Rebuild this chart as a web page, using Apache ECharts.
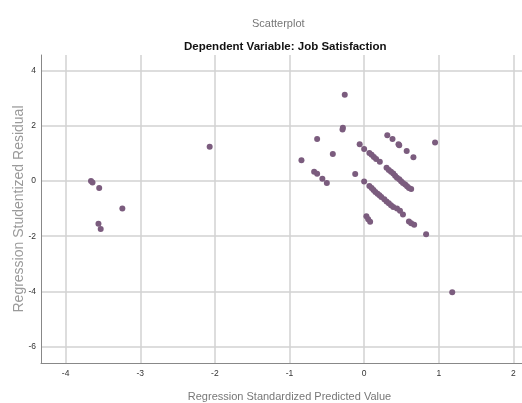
<!DOCTYPE html>
<html>
<head>
<meta charset="utf-8">
<script src="https://cdn.jsdelivr.net/npm/echarts@6/dist/echarts.min.js"></script>
<style>
html,body{margin:0;padding:0;background:#fff;}
#scatter{width:522px;height:403px;}
</style>
</head>
<body>
<div id="scatter"></div>
<script>
// standardized predicted value (x) and studentized residual (y)
var predicted = [
  -3.66, -3.64, -3.55, -3.56, -3.53, -3.24,
  -2.07,
  -0.84, -0.63, -0.42, -0.67, -0.63, -0.56, -0.50,
  -0.26, -0.285, -0.29, -0.12, -0.06, 0.0, 0.0,
  0.07, 0.10, 0.13, 0.16, 0.21,
  0.31, 0.38, 0.46, 0.47, 0.57, 0.66,
  0.30, 0.33, 0.36, 0.39, 0.415, 0.44, 0.47, 0.495, 0.52, 0.55, 0.575, 0.60, 0.63,
  0.07, 0.10, 0.125, 0.15, 0.18, 0.205, 0.23, 0.27, 0.30, 0.33, 0.36, 0.39, 0.44, 0.48, 0.52, 0.60, 0.63, 0.67, 0.83,
  0.03, 0.054, 0.08,
  0.95, 1.18
];
var residual = [
  0.0, -0.05, -0.25, -1.55, -1.74, -1.0,
  1.24,
  0.75, 1.52, 0.98, 0.34, 0.26, 0.08, -0.07,
  3.13, 1.93, 1.87, 0.25, 1.33, 1.16, -0.02,
  1.02, 0.95, 0.87, 0.80, 0.70,
  1.66, 1.52, 1.33, 1.30, 1.09, 0.86,
  0.48, 0.40, 0.34, 0.27, 0.19, 0.12, 0.06, -0.01, -0.07, -0.13, -0.19, -0.25, -0.29,
  -0.18, -0.25, -0.33, -0.40, -0.46, -0.52, -0.58, -0.66, -0.74, -0.81, -0.88, -0.94, -1.0, -1.08, -1.21, -1.47, -1.53, -1.59, -1.93,
  -1.28, -1.39, -1.48,
  1.40, -4.03
];
var xTicks = [-4, -3, -2, -1, 0, 1, 2];
var yTicks = [-6, -4, -2, 0, 2, 4];

var points = [];
for (var i = 0; i < predicted.length; i++) {
  points.push([predicted[i], residual[i]]);
}

var chart = echarts.init(document.getElementById('scatter'));
var option = {
  animation: false,
  backgroundColor: '#fff',
  title: [
    {
      text: 'Scatterplot',
      left: 247, top: 13,
      textStyle: {fontFamily: 'Liberation Sans', fontSize: 11, fontWeight: 'normal', color: '#777'}
    },
    {
      text: 'Dependent Variable: Job Satisfaction',
      left: 179, top: 36,
      textStyle: {fontFamily: 'Liberation Sans', fontSize: 11.5, fontWeight: 'bold', color: '#111'}
    }
  ],
  grid: {left: 41, right: 0, top: 55, bottom: 40, outerBoundsMode: 'none'},
  xAxis: {
    type: 'value',
    min: -4.33, max: 2.115,
    name: 'Regression Standardized Predicted Value',
    nameLocation: 'middle',
    nameGap: 28,
    nameMoveOverlap: false,
    nameTextStyle: {fontFamily: 'Liberation Sans', fontSize: 11, color: '#777', padding: [0, 0, 0, 16]},
    axisLine: {show: true, onZero: false, lineStyle: {color: '#888', width: 1}},
    axisTick: {show: false, customValues: xTicks},
    axisLabel: {customValues: xTicks, fontFamily: 'Liberation Sans', fontSize: 8.5, color: '#333', margin: 6},
    splitLine: {show: true, lineStyle: {color: '#d2d2d2', width: 1.5}}
  },
  yAxis: {
    type: 'value',
    min: -6.6, max: 4.57,
    name: 'Regression Studentized Residual',
    nameLocation: 'middle',
    nameGap: 15,
    nameMoveOverlap: false,
    nameTextStyle: {fontFamily: 'Liberation Sans', fontSize: 14, color: '#9a9a9a'},
    axisLine: {show: true, onZero: false, lineStyle: {color: '#888', width: 1}},
    axisTick: {show: false, customValues: yTicks},
    axisLabel: {customValues: yTicks, fontFamily: 'Liberation Sans', fontSize: 8.5, color: '#333', margin: 5},
    splitLine: {show: true, lineStyle: {color: '#d2d2d2', width: 1.5}}
  },
  series: [{
    type: 'scatter',
    data: points,
    symbolSize: 6,
    itemStyle: {color: '#7b5c7e', opacity: 1}
  }]
};
chart.setOption(option);
</script>
</body>
</html>
